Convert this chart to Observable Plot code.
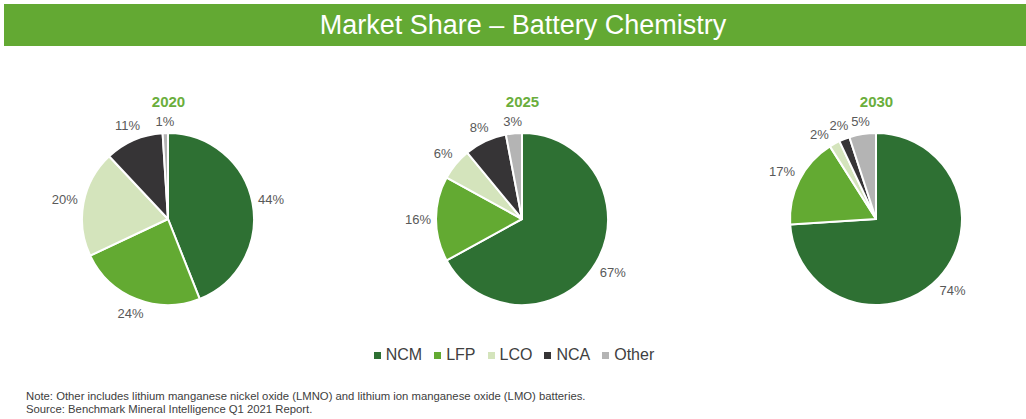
<!DOCTYPE html>
<html>
<head>
<meta charset="utf-8">
<script src="https://cdn.jsdelivr.net/npm/d3@7"></script>
<script src="https://cdn.jsdelivr.net/npm/@observablehq/plot@0.6"></script>
<style>
html, body { margin: 0; padding: 0; background: #fff; width: 1026px; height: 419px; overflow: hidden; font-family: "Liberation Sans", Arial, sans-serif; }
#title { position: absolute; left: 4px; top: 4px; width: 1022px; height: 42px; background: #63a933; color: #fff; font-size: 27px; line-height: 42px; text-align: center; box-sizing: border-box; padding-left: 16px; white-space: nowrap; }
#chart { position: absolute; left: 0; top: 50px; }
#legend { position: absolute; left: 0; top: 345px; width: 1026px; height: 20px; display: flex; justify-content: center; }
#note { position: absolute; left: 26px; top: 390px; font-size: 11.3px; line-height: 13px; color: #404040; white-space: nowrap; }
.lg-swatches { font-family: "Liberation Sans", Arial, sans-serif !important; font-size: 16px !important; color: #404040 !important; margin: 0 !important; }
.lg-swatches-wrap { min-height: 20px !important; padding-left: 14px; }
.lg-swatch { margin-right: 12px !important; }
.lg-swatch > svg { margin-right: 5px !important; }
</style>
</head>
<body>
<div id="title">Market Share – Battery Chemistry</div>
<div id="chart"></div>
<div id="legend"></div>
<div id="note">Note: Other includes lithium manganese nickel oxide (LMNO) and lithium ion manganese oxide (LMO) batteries.<br>Source: Benchmark Mineral Intelligence Q1 2021 Report.</div>
<script>
const years = [2020, 2025, 2030];
const chemistries = ["NCM", "LFP", "LCO", "NCA", "Other"];
const share2020 = [44, 24, 20, 11, 1];
const share2025 = [67, 16, 6, 8, 3];
const share2030 = [74, 17, 2, 2, 5];
const colors = ["#2e7033", "#63aa32", "#d4e4bc", "#363436", "#b4b4b4"];

const sharesByYear = [share2020, share2025, share2030];
const rows = years.flatMap((year, yi) =>
  chemistries.map((chem, ci) => ({year, chem, share: sharesByYear[yi][ci]}))
);

const R = 86;          // pie radius (px)
const LABEL_GAP = 5;   // gap between pie edge and label box
const LABEL_SIZE = 13; // label font size

function center(d) {
  const cx = d.marginLeft + (d.width - d.marginLeft - d.marginRight) / 2;
  const cy = d.marginTop + (d.height - d.marginTop - d.marginBottom) / 2;
  return [cx, cy];
}

function pieSlices(index, scales, values, dimensions) {
  const [cx, cy] = center(dimensions);
  const arc = d3.arc().innerRadius(0).outerRadius(R);
  const g = d3.create("svg:g").attr("transform", `translate(${cx},${cy})`);
  g.selectAll("path").data(Array.from(index)).join("path")
    .attr("d", i => arc({startAngle: values.x1[i], endAngle: values.x2[i]}))
    .attr("fill", i => values.fill[i])
    .attr("stroke", "#fff")
    .attr("stroke-width", 2)
    .attr("stroke-linejoin", "round");
  return g.node();
}

// label box sits just outside the pie, like an outside-end data label
function labelWidth(text) {
  return (text.length - 1) * 0.556 * LABEL_SIZE + 0.889 * LABEL_SIZE;
}
function labelPos(angle, text) {
  const w = labelWidth(text), h = LABEL_SIZE;
  const d = R + LABEL_GAP + Math.abs(Math.sin(angle)) * w / 2 + Math.abs(Math.cos(angle)) * h / 2;
  return [d * Math.sin(angle), -d * Math.cos(angle)];
}

function pieLabels(index, scales, values, dimensions) {
  const [cx, cy] = center(dimensions);
  const idx = Array.from(index);
  const labels = idx.map(i => {
    const text = values.text[i];
    const angle = values.x[i];
    return {text, angle, w: labelWidth(text), pos: labelPos(angle, text)};
  });
  // nudge an earlier label counter-clockwise when it collides with the next one
  const overlaps = (a, b) =>
    Math.abs(a.pos[0] - b.pos[0]) < (a.w + b.w) / 2 && Math.abs(a.pos[1] - b.pos[1]) < LABEL_SIZE;
  for (let k = labels.length - 2; k >= 0; --k) {
    const a = labels[k], b = labels[k + 1];
    let steps = 0;
    while (overlaps(a, b) && steps++ < 60) {
      a.angle -= Math.PI / 360;
      a.pos = labelPos(a.angle, a.text);
    }
  }
  const g = d3.create("svg:g").attr("transform", `translate(${cx},${cy})`);
  g.selectAll("text").data(labels).join("text")
    .attr("x", l => l.pos[0])
    .attr("y", l => l.pos[1])
    .attr("text-anchor", "middle")
    .attr("dy", "0.35em")
    .attr("fill", "#595959")
    .attr("font-size", LABEL_SIZE)
    .text(l => l.text);
  return g.node();
}

const chart = Plot.plot({
  width: 1026,
  height: 285,
  marginTop: 53,
  marginBottom: 0,
  marginLeft: 0,
  marginRight: 0,
  style: {fontFamily: "'Liberation Sans', Arial, sans-serif", background: "transparent"},
  facet: {data: rows, x: "year"},
  fx: {domain: years, range: [-10, 1053.5], paddingInner: 0, paddingOuter: 0, axis: null},
  x: {domain: [0, 100], range: [0, 2 * Math.PI], axis: null},
  color: {domain: chemistries, range: colors},
  marks: [
    Plot.barX(rows, Plot.stackX({x: "share", fill: "chem", render: pieSlices})),
    Plot.text(rows, Plot.stackX({x: "share", text: d => `${d.share}%`, render: pieLabels})),
    Plot.text(rows, Plot.selectFirst({text: d => String(d.year), frameAnchor: "top", dy: -7,
      fill: "#6aae3c", fontWeight: "bold", fontSize: 15}))
  ]
});
document.getElementById("chart").appendChild(chart);

const legend = Plot.legend({color: {domain: chemistries, range: colors}, swatchSize: 7, className: "lg"});
document.getElementById("legend").appendChild(legend);
</script>
</body>
</html>
